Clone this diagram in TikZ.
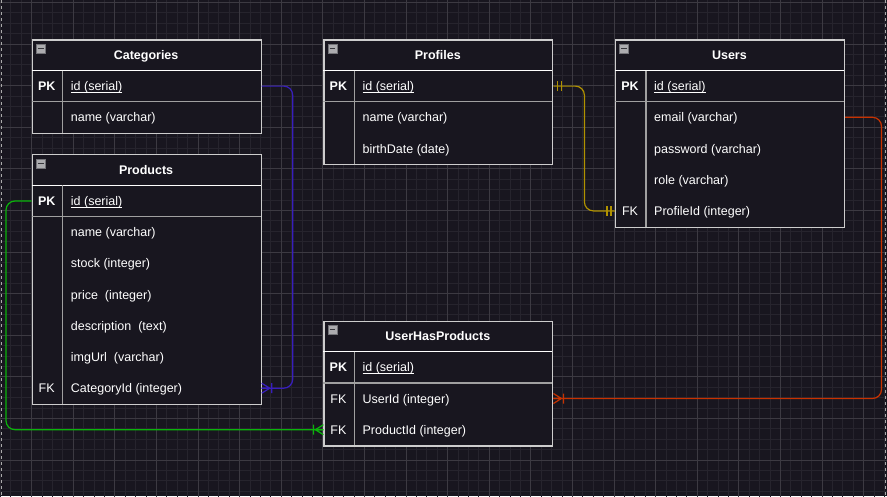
\documentclass[tikz,border=0pt]{standalone}
\usepackage{fontspec}
\setmainfont{Liberation Sans}

\definecolor{canvas}{RGB}{24,22,31}
\definecolor{minorline}{RGB}{38,36,45}
\definecolor{majorline}{RGB}{60,58,66}
\definecolor{pagegray}{RGB}{170,170,170}
\definecolor{boxedge}{RGB}{205,205,205}
\definecolor{rowedge}{RGB}{160,160,160}
\definecolor{iconfill}{RGB}{172,172,175}
\definecolor{iconedge}{RGB}{115,115,120}
\definecolor{iconbar}{RGB}{55,55,60}
\definecolor{relblue}{RGB}{56,30,190}
\definecolor{relyellow}{RGB}{176,146,0}
\definecolor{relred}{RGB}{200,50,0}
\definecolor{relgreen}{RGB}{10,180,10}

\newcommand{\pkfield}[1]{\setbox0\hbox{#1}\rlap{\vrule width\wd0 height-1.2pt depth2.3pt}\box0}

\tikzset{
  erbox/.style={draw=boxedge, fill=canvas, line width=1.2pt, anchor=north west, minimum width=228.8pt, inner sep=0pt},
  headline/.style={draw=white, line width=1.2pt},
  rowline/.style={draw=rowedge, line width=1.2pt},
  icon/.style={draw=iconedge, fill=iconfill, line width=0.8pt, minimum size=9pt, inner sep=0pt},
  minus/.style={draw=iconbar, line width=1.5pt},
  tabtitle/.style={text=white, font=\fontsize{12.5}{15}\selectfont\bfseries, inner sep=0pt, text height=10.5pt, text depth=1.5pt},
  keytext/.style={text=white, inner sep=0pt, text height=10.5pt, text depth=1.5pt},
  pktext/.style={keytext, font=\fontsize{12.5}{15}\selectfont\bfseries},
  fieldtext/.style={anchor=west, text=white, inner sep=0pt, text height=10.5pt, text depth=1.5pt},
  rel/.style={line width=1.2pt, rounded corners=9pt},
  pageedge/.style={draw=pagegray, line width=1pt, dash pattern=on 3pt off 3pt},
  onemany/.pic={\draw[pic actions, line width=1.2pt] (0,-5) -- (8,0) (0,0) -- (8,0) (0,5) -- (8,0) (10,-5) -- (10,5);},
  onlyone/.pic={\draw[pic actions, line width=1.2pt] (4,-5) -- (4,5) (8,-5) -- (8,5);}
}

\begin{document}
\begin{tikzpicture}[x=1pt, y=-1pt, font=\fontsize{12.5}{15}\selectfont]
\useasboundingbox (0,0) rectangle (887,496);
\fill[canvas] (0,0) rectangle (887,496);
\begin{scope}
\clip (0,0) rectangle (887,496);
\begin{scope}[y=1pt, shift={(31.6pt,-2.4pt)}]
\draw[minorline, line width=1pt, step=10.4pt] (-40,-510) grid (870,40);
\draw[majorline, line width=1pt, step=41.6pt] (-40,-510) grid (870,40);
\end{scope}
\end{scope}
\draw[pageedge] (1,0) -- (1,496);
\draw[pageedge] (885.5,0) -- (885.5,496);

\node[erbox, minimum height=93.6pt] (cat) at (31.7,39.3) {};
\node[icon] (cat-icon) at (40.7,48.5) {};
\draw[minus] ([xshift=2pt]cat-icon.west) -- ([xshift=-2pt]cat-icon.east);
\node[tabtitle] (cat-title) at (146.1,54.9) {Categories};
\draw[headline] (31.7,70.5) -- (260.5,70.5);
\draw[rowline] (31.7,101.7) -- (260.5,101.7);
\draw[rowline] (62.7,70.5) -- (62.7,132.9);
\node[pktext] (cat-pk) at (46.7,86.1) {PK};
\node[fieldtext] (cat-id) at (70.7,86.1) {\pkfield{id (serial)}};
\node[fieldtext] (cat-name) at (70.7,117.3) {name (varchar)};

\node[erbox, minimum height=249.6pt] (prod) at (31.7,154.2) {};
\node[icon] (prod-icon) at (40.7,163.4) {};
\draw[minus] ([xshift=2pt]prod-icon.west) -- ([xshift=-2pt]prod-icon.east);
\node[tabtitle] (prod-title) at (146.1,169.8) {Products};
\draw[headline] (31.7,185.4) -- (260.5,185.4);
\draw[rowline] (31.7,216.6) -- (260.5,216.6);
\draw[rowline] (62.7,185.4) -- (62.7,403.8);
\node[pktext] (prod-pk) at (46.7,201.0) {PK};
\node[fieldtext] (prod-id) at (70.7,201.0) {\pkfield{id (serial)}};
\node[fieldtext] (prod-name) at (70.7,232.2) {name (varchar)};
\node[fieldtext] (prod-stock) at (70.7,263.4) {stock (integer)};
\node[fieldtext] (prod-price) at (70.7,294.6) {price\ \ (integer)};
\node[fieldtext] (prod-desc) at (70.7,325.8) {description\ \ (text)};
\node[fieldtext] (prod-img) at (70.7,357.0) {imgUrl\ \ (varchar)};
\node[keytext] (prod-fk) at (46.7,388.2) {FK};
\node[fieldtext] (prod-catid) at (70.7,388.2) {CategoryId (integer)};

\node[erbox, minimum height=124.8pt] (prof) at (323.4,39.3) {};
\node[icon] (prof-icon) at (332.4,48.5) {};
\draw[minus] ([xshift=2pt]prof-icon.west) -- ([xshift=-2pt]prof-icon.east);
\node[tabtitle] (prof-title) at (437.8,54.9) {Profiles};
\draw[headline] (323.4,70.5) -- (552.2,70.5);
\draw[rowline] (323.4,101.7) -- (552.2,101.7);
\draw[rowline] (354.4,70.5) -- (354.4,164.1);
\node[pktext] (prof-pk) at (338.4,86.1) {PK};
\node[fieldtext] (prof-id) at (362.4,86.1) {\pkfield{id (serial)}};
\node[fieldtext] (prof-name) at (362.4,117.3) {name (varchar)};
\node[fieldtext] (prof-birth) at (362.4,148.5) {birthDate (date)};

\node[erbox, minimum height=187.2pt] (usr) at (615,39.3) {};
\node[icon] (usr-icon) at (624,48.5) {};
\draw[minus] ([xshift=2pt]usr-icon.west) -- ([xshift=-2pt]usr-icon.east);
\node[tabtitle] (usr-title) at (729.4,54.9) {Users};
\draw[headline] (615,70.5) -- (843.8,70.5);
\draw[rowline] (615,101.7) -- (843.8,101.7);
\draw[rowline] (646,70.5) -- (646,226.5);
\node[pktext] (usr-pk) at (630,86.1) {PK};
\node[fieldtext] (usr-id) at (654,86.1) {\pkfield{id (serial)}};
\node[fieldtext] (usr-email) at (654,117.3) {email (varchar)};
\node[fieldtext] (usr-pass) at (654,148.5) {password (varchar)};
\node[fieldtext] (usr-role) at (654,179.7) {role (varchar)};
\node[keytext] (usr-fk) at (630,210.9) {FK};
\node[fieldtext] (usr-profid) at (654,210.9) {ProfileId (integer)};

\node[erbox, minimum height=124.8pt] (uhp) at (323.4,320.5) {};
\node[icon] (uhp-icon) at (332.4,329.7) {};
\draw[minus] ([xshift=2pt]uhp-icon.west) -- ([xshift=-2pt]uhp-icon.east);
\node[tabtitle] (uhp-title) at (437.8,336.1) {UserHasProducts};
\draw[headline] (323.4,351.7) -- (552.2,351.7);
\draw[rowline] (323.4,382.9) -- (552.2,382.9);
\draw[rowline] (354.4,351.7) -- (354.4,445.3);
\node[pktext] (uhp-pk) at (338.4,367.3) {PK};
\node[fieldtext] (uhp-id) at (362.4,367.3) {\pkfield{id (serial)}};
\node[keytext] (uhp-fk1) at (338.4,398.5) {FK};
\node[fieldtext] (uhp-userid) at (362.4,398.5) {UserId (integer)};
\node[keytext] (uhp-fk2) at (338.4,429.7) {FK};
\node[fieldtext] (uhp-prodid) at (362.4,429.7) {ProductId (integer)};

\draw[rel, relblue] (cat-id -| cat.east) -- ++(31,0) |- (prod-catid -| prod.east);
\pic[draw=relblue] at (prod-catid -| prod.east) {onemany};
\draw[rel, relyellow] (prof-id -| prof.east) -- ++(31,0) |- (usr-profid -| usr.west);
\pic[draw=relyellow] at (prof-id -| prof.east) {onlyone};
\pic[draw=relyellow, rotate=180] at (usr-profid -| usr.west) {onlyone};
\draw[rel, relred] (usr-email -| usr.east) -- ++(36.5,0) |- (uhp-userid -| uhp.east);
\pic[draw=relred] at (uhp-userid -| uhp.east) {onemany};
\draw[rel, relgreen] (prod-id -| prod.west) -- ++(-25.7,0) |- (uhp-prodid -| uhp.west);
\pic[draw=relgreen, rotate=180] at (uhp-prodid -| uhp.west) {onemany};
\end{tikzpicture}
\end{document}
